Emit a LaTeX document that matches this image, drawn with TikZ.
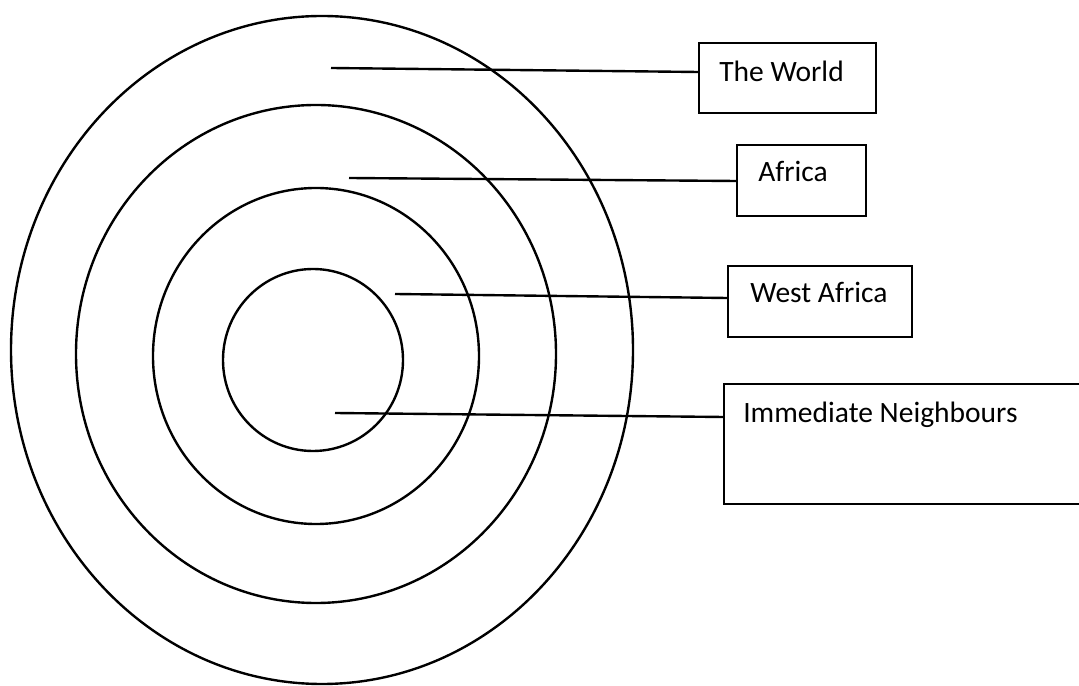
\documentclass[tikz,border=0pt]{standalone}
\usepackage{fontspec}
\setmainfont{Carlito}
\usepackage{xcolor}
\definecolor{inkblack}{HTML}{000000}

\begin{document}
\begin{tikzpicture}[
  x=0.025cm, y=0.025cm,
  ring/.style={draw=inkblack,line width=1.7pt},
  frame/.style={draw=inkblack,line width=0.9pt,inner sep=0pt},
  tag/.style={anchor=base west,inner sep=0pt,text=inkblack,
    font=\fontsize{21}{25}\selectfont},
  leader/.style={draw=inkblack,line width=1.7pt}
]
  \useasboundingbox (0,0) rectangle (1079,685);
  % rings, outer to inner
  \draw[ring] (322,335) ellipse [x radius=311, y radius=334];
  \draw[ring] (316,331) ellipse [x radius=240, y radius=249];
  \draw[ring] (316,329) ellipse [x radius=163, y radius=168];
  \draw[ring] (313,325) ellipse [x radius=90, y radius=91];

  % label boxes
  \node[frame,minimum width=4.425cm,minimum height=1.75cm] (world) at (787.5,607) {};
  \node[frame,minimum width=3.225cm,minimum height=1.775cm] (africa) at (801.5,504.5) {};
  \node[frame,minimum width=4.6cm,minimum height=1.775cm] (west) at (820,383.5) {};
  \node[frame,minimum width=9.15cm,minimum height=3cm] (near) at (907,241) {};

  \node[tag] (worldtxt) at (719,603) {The World};
  \node[tag] (africatxt) at (758,503) {Africa};
  \node[tag] (westtxt) at (750,382) {West Africa};
  \node[tag] (neartxt) at (743,262) {Immediate Neighbours};

  % leader lines from the rings
  \coordinate (worldpt) at (331,617);
  \coordinate (africapt) at (349,507);
  \coordinate (westpt) at (395,391);
  \coordinate (nearpt) at (335,272);
  \draw[leader] (worldpt) -- ([yshift=0.15cm]world.west);
  \draw[leader] (africapt) -- ([yshift=-0.0125cm]africa.west);
  \draw[leader] (westpt) -- ([yshift=0.0875cm]west.west);
  \draw[leader] (nearpt) -- ([yshift=0.675cm]near.west);
\end{tikzpicture}
\end{document}
